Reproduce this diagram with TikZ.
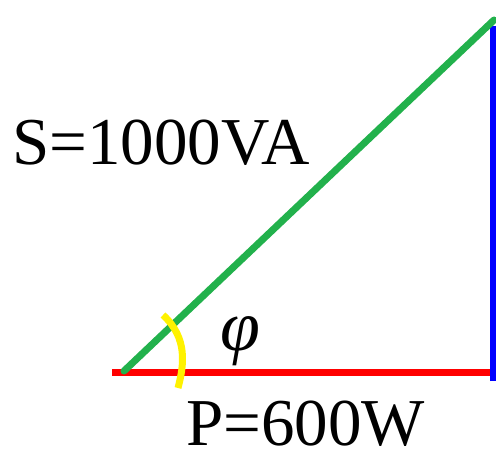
\documentclass[tikz,border=0pt]{standalone}
\usepackage{amsmath}
\usepackage{fontspec}
\setmainfont{Liberation Serif}
\usepackage{xcolor}
\usepackage{tikz}
\usetikzlibrary{positioning, calc}
\definecolor{sgreen}{RGB}{34,177,76}
\tikzset{
  side/.style={line width=3.5pt},
  lbl/.style={font=\fontsize{33.5}{38}\selectfont, inner sep=0pt}
}
\begin{document}
\begin{tikzpicture}[x=0.5pt, y=-0.5pt]
\useasboundingbox (0,0) rectangle (496,453);
% Corners of the power triangle
\coordinate (O) at (124,371);
\coordinate (Pl) at (112,372);
\coordinate (Pr) at (493,372);
\coordinate (Qb) at (493,381);
\coordinate (Qt) at (493,26);
\coordinate (St) at (494,20);

% Sides
\draw[side, red] (Pl) -- (Pr);
\draw[side, blue] (Qb) -- (Qt);
\draw[side, sgreen, line cap=round] (O) -- (St);

% Angle mark
\coordinate (A1) at (163,315);
\coordinate (A2) at (178,388);
\draw[side, yellow] (A1) .. controls (188,338) and (184,365) .. (A2);

% Labels
\node[lbl, anchor=base west] (s) at (12,165) {S=1000VA};
\node[lbl, anchor=base west] (p) at (186,445) {P=600W};
\node[font=\fontsize{36}{40}\selectfont\itshape, inner sep=0pt] (phi) at (240,341) {φ};
\end{tikzpicture}
\end{document}
